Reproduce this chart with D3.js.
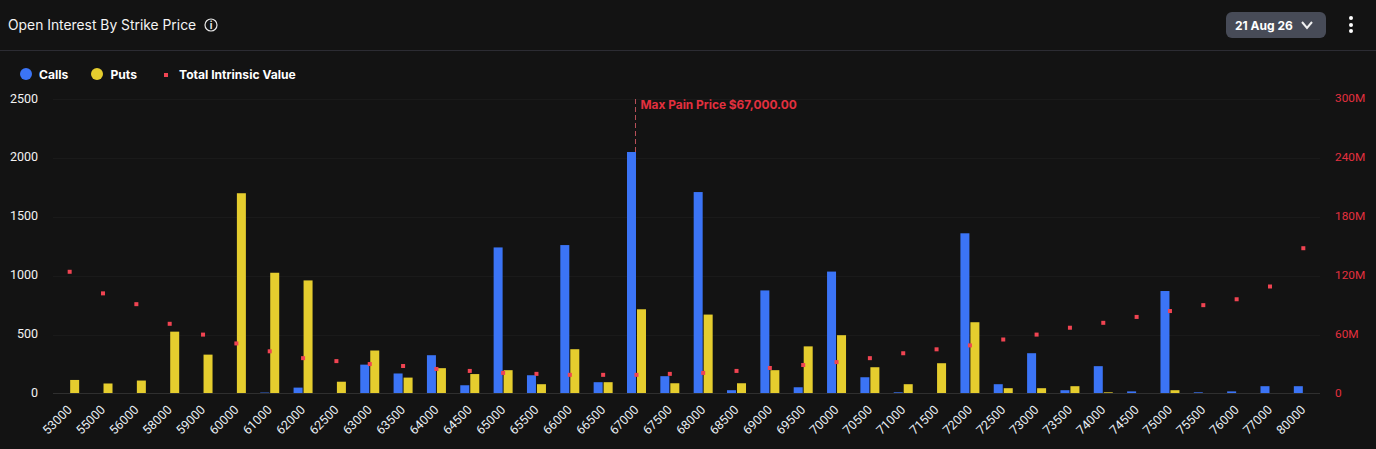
<!DOCTYPE html>
<html>
<head>
<meta charset="utf-8">
<script src="https://cdn.jsdelivr.net/npm/d3@7"></script>
<style>
  html, body { margin: 0; padding: 0; background: #131313; overflow: hidden; }
  text { font-family: "Inter", sans-serif; }
</style>
</head>
<body>
<div class="chart"></div>
<script>
const strikes = ["53000","55000","56000","58000","59000","60000","61000","62000","62500","63000","63500","64000","64500","65000","65500","66000","66500","67000","67500","68000","68500","69000","69500","70000","70500","71000","71500","72000","72500","73000","73500","74000","74500","75000","75500","76000","77000","80000"];
const calls = [0,0,0,0,0,0,8,50,0,245,170,325,70,1240,155,1260,96,2050,147,1710,28,875,53,1035,138,10,0,1360,79,342,28,232,18,870,10,18,62,62];
const puts = [115,85,110,525,330,1700,1025,960,100,365,135,215,165,198,79,376,96,715,87,670,87,198,400,495,223,79,257,605,45,45,62,10,0,28,0,0,0,0];
const intrinsic = [124,102,91,71,60,51,43,36,33,30,28,25,23,21,20,19,19,19,20,21,23,26,29,32,36,41,45,49,55,60,67,72,78,84,90,96,109,148];
const leftTicks = [0,500,1000,1500,2000,2500];
const rightTicks = [0,60,120,180,240,300];

const width = 1376, height = 449;
const plotLeft = 53, plotRight = 1320, plotTop = 99, plotBottom = 393.5;
const blue = "#3b74f6", yellow = "#e5cd2e", red = "#f04452", redText = "#e3303f";

const svg = d3.select(".chart").append("svg")
    .attr("width", width)
    .attr("height", height)
    .style("display", "block");

svg.append("rect").attr("width", width).attr("height", height).attr("fill", "#131313");

// header
svg.append("text").attr("x", 8).attr("y", 30).attr("fill", "#f4f4f4")
    .style("font-size", "13.85px").text("Open Interest By Strike Price");
svg.append("circle").attr("cx", 211).attr("cy", 25).attr("r", 6)
    .attr("fill", "none").attr("stroke", "#e8e8e8").attr("stroke-width", 1.2);
svg.append("text").attr("x", 211).attr("y", 29).attr("text-anchor", "middle").attr("fill", "#e8e8e8")
    .style("font-size", "10px").style("font-weight", 700).text("i");
svg.append("line").attr("x1", 0).attr("x2", width).attr("y1", 50.5).attr("y2", 50.5).attr("stroke", "#2c2c33");

// date selector and menu
svg.append("rect").attr("x", 1226).attr("y", 12).attr("width", 100).attr("height", 26).attr("rx", 6).attr("fill", "#474b57");
svg.append("text").attr("x", 1235).attr("y", 30).attr("fill", "#fff")
    .style("font-size", "12px").style("font-weight", 700).text("21 Aug 26");
svg.append("path").attr("d", d3.line()([[1302, 22], [1307, 28], [1312, 22]]))
    .attr("fill", "none").attr("stroke", "#f0f0f0").attr("stroke-width", 2);
svg.selectAll("circle.dot").data([18, 25, 31]).enter().append("circle")
    .attr("class", "dot").attr("cx", 1351).attr("cy", d => d).attr("r", 2).attr("fill", "#fff");

// legend
const legendFont = "12.1px";
svg.append("circle").attr("cx", 26).attr("cy", 74).attr("r", 6).attr("fill", blue);
svg.append("text").attr("x", 39).attr("y", 79).attr("fill", "#fff").style("font-size", legendFont).style("font-weight", 700).text("Calls");
svg.append("circle").attr("cx", 97).attr("cy", 74).attr("r", 6).attr("fill", yellow);
svg.append("text").attr("x", 110.5).attr("y", 79).attr("fill", "#fff").style("font-size", legendFont).style("font-weight", 700).text("Puts");
svg.append("rect").attr("x", 164).attr("y", 73).attr("width", 4).attr("height", 4).attr("fill", red);
svg.append("text").attr("x", 179).attr("y", 79).attr("fill", "#fff").style("font-size", legendFont).style("font-weight", 700).text("Total Intrinsic Value");

// scales
const xScale = d3.scaleBand().domain(strikes).range([plotLeft, plotRight]);
const yScale = d3.scaleLinear().domain([0, 2500]).range([plotBottom, plotTop]);
const y2Scale = d3.scaleLinear().domain([0, 300]).range([plotBottom, plotTop]);
const barWidth = 9;

// grid
svg.selectAll("line.grid").data(leftTicks.slice(1)).enter().append("line")
    .attr("class", "grid")
    .attr("x1", plotLeft).attr("x2", plotRight)
    .attr("y1", d => Math.round(yScale(d)) + 0.5).attr("y2", d => Math.round(yScale(d)) + 0.5)
    .attr("stroke", "#1a1a1a");

// bars
svg.selectAll("rect.call").data(calls).enter().append("rect")
    .attr("class", "call")
    .attr("x", (d, i) => xScale(strikes[i]) + xScale.bandwidth() / 2 - barWidth - 0.5)
    .attr("width", barWidth)
    .attr("y", d => yScale(d))
    .attr("height", d => plotBottom - yScale(d))
    .attr("fill", blue);
svg.selectAll("rect.put").data(puts).enter().append("rect")
    .attr("class", "put")
    .attr("x", (d, i) => xScale(strikes[i]) + xScale.bandwidth() / 2 + 0.5)
    .attr("width", barWidth)
    .attr("y", d => yScale(d))
    .attr("height", d => plotBottom - yScale(d))
    .attr("fill", yellow);

// baseline
svg.append("line").attr("x1", plotLeft).attr("x2", plotRight).attr("y1", plotBottom).attr("y2", plotBottom)
    .attr("stroke", "#2f2f2f").attr("stroke-width", 1);

// intrinsic value points
svg.selectAll("rect.iv").data(intrinsic).enter().append("rect")
    .attr("class", "iv")
    .attr("x", (d, i) => xScale(strikes[i]) + xScale.bandwidth() / 2 - 2)
    .attr("y", d => y2Scale(d) - 2)
    .attr("width", 4).attr("height", 4)
    .attr("fill", red);

// max pain marker
const maxPainX = xScale("67000") + xScale.bandwidth() / 2 - 1;
svg.append("line").attr("x1", maxPainX).attr("x2", maxPainX).attr("y1", plotTop).attr("y2", yScale(calls[strikes.indexOf("67000")]))
    .attr("stroke", "#b9505a").attr("stroke-dasharray", "5 3");
svg.append("text").attr("x", maxPainX + 5).attr("y", 109).attr("fill", redText)
    .style("font-size", "11.9px").style("font-weight", 700).text("Max Pain Price $67,000.00");

// axes
const yAxisLeft = d3.axisLeft(yScale).tickValues(leftTicks).tickFormat(d3.format("d")).tickSize(0).tickPadding(0);
const gLeft = svg.append("g").attr("transform", "translate(38,-1)").call(yAxisLeft);
gLeft.select(".domain").remove();
gLeft.selectAll("text").attr("fill", "#f2f2f2").style("font-size", "12.5px").style("font-family", "Roboto");

const yAxisRight = d3.axisRight(y2Scale).tickValues(rightTicks).tickFormat(d => d === 0 ? "0" : d + "M").tickSize(0).tickPadding(0);
const gRight = svg.append("g").attr("transform", "translate(1335,-1)").call(yAxisRight);
gRight.select(".domain").remove();
gRight.selectAll("text").attr("fill", redText).style("font-size", "11.8px").style("font-family", "Roboto");

const xAxis = d3.axisBottom(xScale).tickSize(0).tickPadding(0);
const gX = svg.append("g").attr("transform", "translate(0," + plotBottom + ")").call(xAxis);
gX.select(".domain").remove();
gX.selectAll("text")
    .attr("fill", "#e8eef4")
    .attr("text-anchor", "end")
    .attr("dy", 0)
    .attr("y", 0)
    .attr("transform", "translate(3,17) rotate(-45)")
    .style("font-size", "12.5px")
    .style("font-family", "Roboto");
</script>
</body>
</html>
